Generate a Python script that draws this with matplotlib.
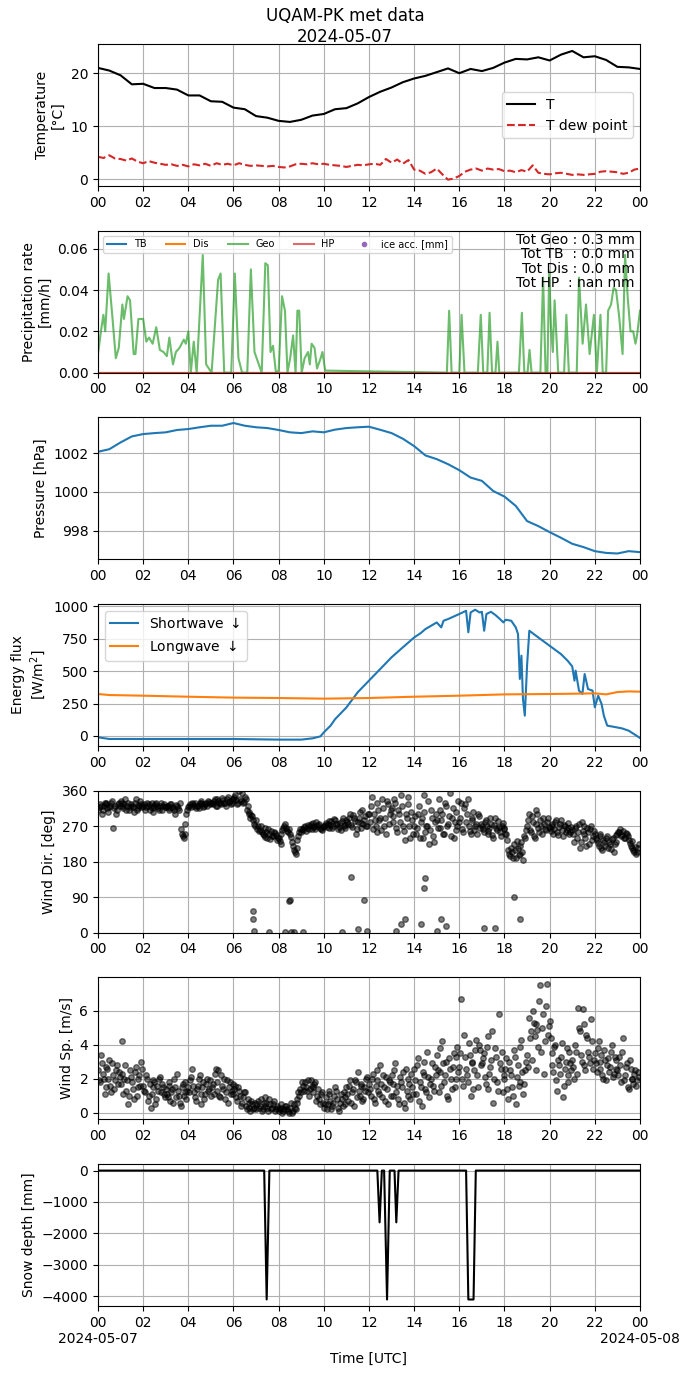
import numpy as np
import pandas as pd
import matplotlib
matplotlib.use('Agg')
import matplotlib.pyplot as plt
import matplotlib.dates as mdates
from matplotlib.ticker import FuncFormatter

day = pd.Timestamp('2024-05-07')

# --- temperature / dew point ---
temp_h = np.arange(49) * 0.5
temp = [21.0, 20.5, 19.6, 17.9, 18.0, 17.2, 17.2, 16.9, 15.8, 15.8, 14.7, 14.6,
        13.5, 13.2, 11.9, 11.6, 11.0, 10.8, 11.2, 12.0, 12.3, 13.2, 13.4, 14.3,
        15.5, 16.5, 17.3, 18.3, 19.0, 19.5, 20.2, 20.9, 20.0, 20.8, 20.4, 21.0,
        22.0, 22.7, 22.6, 23.0, 22.4, 23.5, 24.2, 23.0, 23.2, 22.5, 21.2, 21.1, 20.8]
dew_h = np.arange(97) * 0.25
dew = [4.2, 4.0, 4.5, 3.9, 3.8, 3.5, 3.9, 3.3, 3.0, 3.4, 3.1, 2.9,
       2.7, 2.8, 2.5, 2.7, 2.4, 2.8, 2.6, 2.9, 2.5, 3.0, 2.7, 2.9,
       2.6, 3.0, 2.7, 2.5, 2.6, 2.5, 2.4, 2.5, 2.3, 2.2, 2.4, 2.8,
       2.9, 2.8, 3.0, 2.8, 2.9, 2.7, 2.6, 2.5, 2.3, 2.5, 2.7, 2.6,
       2.8, 2.9, 2.7, 3.8, 3.1, 3.7, 2.9, 3.6, 1.8, 1.6, 1.0, 1.3,
       2.0, 0.9, -0.1, 0.1, 0.6, 1.4, 1.8, 2.0, 1.6, 2.0, 1.8, 1.9,
       1.5, 1.6, 1.3, 1.7, 1.4, 2.6, 1.2, 1.0, 0.9, 1.1, 1.2, 1.0,
       0.8, 0.9, 0.8, 0.9, 1.0, 1.4, 1.5, 1.4, 1.3, 1.0, 1.2, 1.8, 2.0]

# --- precipitation (Geo gauge) ---
geo_h = [0.0, 0.13, 0.24, 0.32, 0.47, 0.63, 0.79, 0.92, 1.08, 1.15, 1.31, 1.42,
         1.58, 1.66, 1.79, 2.0, 2.14, 2.26, 2.42, 2.58, 2.74, 2.9, 3.05, 3.16,
         3.32, 3.45, 3.61, 3.8, 3.89, 4.0, 4.11, 4.24, 4.37, 4.64, 4.79, 5.03,
         5.32, 5.43, 5.59, 5.9, 6.06, 6.22, 6.38, 6.61, 6.77, 6.93, 7.12, 7.25,
         7.41, 7.52, 7.64, 7.75, 7.88, 8.0, 8.15, 8.28, 8.39, 8.51, 8.64, 8.75,
         8.83, 8.91, 9.02, 9.15, 9.3, 9.38, 9.46, 9.59, 9.7, 9.86, 9.94, 10.06,
         15.45, 15.55, 15.66, 16.0, 16.1, 16.23, 16.82, 16.95, 17.06, 17.24, 17.34,
         17.45, 17.6, 17.69, 17.77, 18.64, 18.77, 18.88, 19.02, 19.11, 19.2, 19.59,
         19.71, 19.82, 19.9, 19.98, 20.06, 20.14, 20.22, 20.38, 20.64, 20.74, 20.85,
         21.2, 21.3, 21.46, 21.61, 21.77, 21.96, 22.09, 22.25, 22.35, 22.5, 22.59,
         22.72, 22.83, 22.94, 23.07, 23.23, 23.34, 23.46, 23.58, 23.7, 23.8, 23.87, 24.0]
geo = [0.009, 0.020, 0.028, 0.020, 0.048, 0.028, 0.007, 0.012, 0.033, 0.026, 0.037, 0.035,
       0.009, 0.009, 0.026, 0.026, 0.015, 0.017, 0.014, 0.022, 0.011, 0.010, 0.008, 0.017,
       0.004, 0.010, 0.012, 0.016, 0.014, 0.020, 0.0, 0.015, 0.0, 0.057, 0.004, 0.0,
       0.045, 0.048, 0.0, 0.0, 0.048, 0.007, 0.0, 0.0, 0.050, 0.010, 0.004, 0.0,
       0.053, 0.052, 0.010, 0.013, 0.0, 0.001, 0.037, 0.030, 0.0, 0.007, 0.018, 0.0,
       0.030, 0.030, 0.0, 0.007, 0.010, 0.004, 0.014, 0.012, 0.002, 0.007, 0.010, 0.001,
       0.0, 0.030, 0.0, 0.0, 0.028, 0.0, 0.0, 0.028, 0.0, 0.0, 0.029,
       0.0, 0.0, 0.015, 0.0, 0.0, 0.029, 0.0, 0.0, 0.011, 0.0, 0.0,
       0.046, 0.0, 0.0, 0.049, 0.022, 0.010, 0.035, 0.0, 0.0, 0.028, 0.0,
       0.0, 0.046, 0.014, 0.033, 0.009, 0.028, 0.0, 0.028, 0.0, 0.0, 0.030,
       0.033, 0.041, 0.040, 0.028, 0.009, 0.057, 0.036, 0.020, 0.020, 0.014, 0.018, 0.030]
zero_h = [0.0, 24.0]
zero_v = [0.0, 0.0]
tot_text = "Tot Geo : 0.3 mm\nTot TB  : 0.0 mm\nTot Dis : 0.0 mm\nTot HP  : nan mm"

# --- pressure ---
pres_h = np.arange(49) * 0.5
pres = [1002.07, 1002.2, 1002.55, 1002.86, 1002.98, 1003.03, 1003.07, 1003.19, 1003.24,
        1003.33, 1003.41, 1003.41, 1003.55, 1003.41, 1003.33, 1003.29, 1003.19, 1003.07,
        1003.03, 1003.12, 1003.07, 1003.21, 1003.29, 1003.33, 1003.36, 1003.2, 1003.03,
        1002.74, 1002.36, 1001.88, 1001.69, 1001.43, 1001.12, 1000.74, 1000.57, 1000.05,
        999.76, 999.28, 998.5, 998.24, 997.93, 997.64, 997.33, 997.16, 996.95, 996.86,
        996.83, 996.95, 996.9]

# --- radiation ---
sw_h = [0.0, 0.5, 2.0, 6.0, 8.0, 9.0, 9.5, 9.85, 10.0, 10.3, 10.5, 11.0, 11.5, 12.0,
        12.5, 13.0, 13.5, 14.0, 14.3, 14.5, 15.0, 15.2, 15.3, 15.5, 16.0, 16.3, 16.4,
        16.5, 16.7, 16.9, 17.0, 17.1, 17.2, 17.4, 17.6, 17.8, 17.95, 18.05, 18.3, 18.5,
        18.6, 18.68, 18.75, 18.82, 18.9, 19.0, 19.1, 19.5, 20.0, 20.5, 20.8, 21.0, 21.1,
        21.15, 21.3, 21.45, 21.55, 21.7, 21.9, 22.0, 22.15, 22.3, 22.4, 22.55, 22.8,
        23.2, 23.5, 24.0]
sw = [-10, -23, -23, -23, -28, -28, -18, -3, 28, 80, 130, 220, 337, 427,
      517, 607, 684, 760, 795, 825, 876, 838, 889, 902, 941, 966, 800,
      953, 974, 953, 958, 812, 941, 958, 933, 902, 876, 897, 889, 838,
      786, 440, 620, 285, 157, 542, 812, 760, 696, 632, 580, 537, 427,
      504, 350, 324, 478, 362, 350, 221, 311, 247, 157, 80, 72,
      59, 41, -15]
lw_h = [0, 0.5, 2, 4, 6, 8, 10, 12, 14, 16, 17, 18, 20, 21, 22, 22.5, 23, 23.5, 24]
lw = [324, 316, 311, 303, 296, 293, 288, 293, 303, 311, 316, 321, 324, 326, 329, 321, 339, 344, 342]

# --- wind, 5-min samples (a) and samples offset by 2.5 min (b) ---
wind_h = np.arange(288) / 12.0
wind_h_b = wind_h + 2.5 / 60
wind_dir = [
    310, 325, 300, 320, 330, 315, 318, 328, 265, 322, 312, 330,
    335, 320, 325, 310, 330, 318, 322, 305, 338, 315, 320, 327,
    320, 312, 330, 325, 318, 305, 322, 328, 315, 320, 310, 325,
    318, 322, 310, 325, 315, 300, 320, 312, 262, 245, 250, 300,
    318, 325, 330, 320, 315, 322, 328, 335, 318, 325, 320, 332,
    330, 325, 338, 320, 335, 328, 342, 330, 322, 345, 335, 330,
    340, 350, 325, 358, 335, 330, 345, 310, 300, 290, 295, 275,
    285, 270, 260, 255, 248, 265, 240, 250, 258, 245, 252, 235,
    240, 225, 260, 270, 265, 255, 250, 230, 210, 200, 235, 255,
    255, 260, 270, 265, 262, 275, 270, 268, 280, 272, 266, 260,
    270, 278, 275, 265, 282, 270, 285, 276, 268, 260, 290, 272,
    285, 275, 300, 268, 290, 250, 280, 305, 265, 275, 295, 270,
    300, 320, 262, 285, 255, 310, 290, 340, 270, 250, 325, 300,
    315, 280, 330, 255, 300, 350, 270, 235, 290, 325, 240, 285,
    270, 250, 300, 240, 290, 350, 255, 270, 225, 310, 245, 280,
    285, 340, 265, 300, 250, 320, 275, 355, 290, 240, 305, 270,
    280, 330, 255, 325, 300, 270, 250, 290, 260, 275, 300, 265,
    270, 255, 285, 250, 265, 275, 240, 290, 260, 268, 245, 278,
    265, 250, 210, 195, 205, 225, 190, 215, 200, 230, 185, 240,
    270, 300, 255, 280, 240, 310, 265, 285, 250, 275, 260, 290,
    265, 275, 250, 280, 255, 268, 285, 245, 270, 260, 278, 255,
    260, 230, 270, 255, 215, 280, 250, 240, 265, 225, 270, 245,
    250, 235, 220, 245, 210, 230, 240, 215, 225, 238, 205, 230,
    250, 255, 245, 258, 240, 250, 235, 220, 215, 205, 200, 215]
wind_dir_b = [
    318, 322, 312, 328, 325, 305, 320, 333, 316, 300, 326, 320,
    328, 315, 340, 322, 310, 325, 318, 330, 312, 324, 335, 318,
    325, 318, 322, 310, 330, 316, 326, 320, 312, 328, 322, 318,
    322, 315, 326, 318, 310, 324, 316, 330, 250, 240, 275, 312,
    322, 318, 326, 330, 322, 316, 330, 325, 320, 328, 335, 326,
    328, 334, 322, 340, 330, 325, 336, 328, 340, 332, 326, 338,
    345, 336, 330, 340, 355, 332, 338, 320, 305, 298, 285, 270,
    262, 258, 270, 250, 242, 255, 262, 238, 245, 255, 248, 240,
    232, 250, 265, 275, 258, 262, 242, 220, 205, 215, 245, 262,
    262, 268, 258, 272, 270, 262, 278, 264, 270, 276, 262, 268,
    274, 268, 282, 272, 265, 288, 275, 262, 278, 284, 270, 265,
    280, 290, 272, 298, 282, 262, 292, 278, 310, 285, 270, 300,
    280, 345, 300, 270, 330, 285, 260, 315, 290, 335, 275, 310,
    295, 340, 265, 310, 280, 320, 258, 300, 345, 270, 305, 250,
    295, 265, 320, 280, 240, 305, 270, 335, 260, 290, 230, 300,
    265, 310, 285, 250, 330, 270, 295, 245, 315, 280, 260, 335,
    290, 262, 315, 280, 340, 258, 285, 305, 270, 250, 295, 275,
    262, 280, 270, 258, 290, 248, 272, 265, 282, 255, 270, 262,
    250, 235, 200, 215, 190, 210, 232, 198, 220, 205, 245, 260,
    285, 260, 295, 245, 275, 300, 255, 270, 290, 262, 280, 268,
    258, 270, 262, 285, 248, 275, 260, 272, 255, 265, 250, 268,
    250, 265, 240, 275, 230, 258, 270, 220, 255, 262, 235, 258,
    240, 228, 250, 215, 235, 220, 245, 230, 212, 240, 225, 248,
    255, 262, 248, 240, 252, 245, 228, 232, 210, 218, 205, 225]
# stray low direction readings
dir_out_h = [6.85, 6.87, 6.9, 7.56, 8.3, 8.45, 8.5, 8.55, 8.7, 9.1, 10.8, 11.2,
             11.5, 11.8, 11.9, 13.2, 13.4, 13.6, 14.3, 14.45, 14.5, 15.0, 15.2,
             15.4, 17.1, 17.6, 18.4, 18.7]
dir_out = [55, 35, 5, 1, 1, 80, 82, 1, 2, 1, 1, 142,
           10, 83, 5, 5, 22, 35, 23, 112, 139, 5, 35,
           18, 12, 12, 90, 35]
wind_sp = [
    2.5, 1.8, 2.9, 2.0, 1.5, 2.6, 3.1, 1.2, 2.2, 1.9, 2.8, 2.4,
    1.7, 4.2, 2.0, 1.3, 0.5, 2.5, 1.8, 0.8, 2.7, 1.5, 2.2, 3.0,
    1.6, 1.2, 2.0, 1.0, 0.3, 1.5, 1.8, 0.8, 1.3, 2.1, 1.7, 1.1,
    1.4, 0.9, 1.8, 1.2, 0.6, 1.5, 2.3, 1.0, 0.4, 1.7, 1.2, 0.8,
    1.5, 1.9, 2.6, 1.2, 0.7, 1.6, 2.2, 0.5, 1.8, 1.1, 2.0, 1.4,
    1.0, 1.7, 2.3, 1.3, 2.5, 0.9, 1.6, 2.0, 1.2, 0.6, 1.8, 1.3,
    1.1, 1.6, 0.7, 1.3, 0.4, 0.9, 1.2, 0.2, 0.6, 0.1, 0.5, 0.3,
    0.2, 0.7, 0.4, 0.1, 0.6, 0.9, 0.3, 0.8, 0.2, 0.5, 0.1, 0.4,
    0.1, 0.3, 0.0, 0.2, 0.4, 0.1, 0.3, 0.0, 0.5, 0.2, 0.8, 1.0,
    1.2, 1.6, 1.8, 1.3, 1.0, 1.9, 1.5, 1.7, 0.7, 1.4, 0.5, 1.2,
    0.3, 0.9, 0.5, 1.3, 0.2, 0.6, 1.5, 0.8, 0.1, 1.1, 0.4, 0.9,
    1.5, 0.7, 1.9, 1.2, 0.4, 1.8, 2.4, 1.0, 1.6, 0.8, 1.3, 2.1,
    1.7, 1.0, 2.3, 0.6, 1.9, 1.3, 2.8, 0.9, 1.5, 2.1, 0.5, 1.8,
    2.2, 1.0, 2.9, 1.6, 0.5, 1.8, 2.4, 0.3, 1.3, 2.0, 0.8, 1.5,
    2.6, 1.1, 3.2, 1.8, 0.4, 2.2, 1.4, 3.6, 0.9, 2.0, 1.6, 2.7,
    3.4, 1.2, 2.4, 4.2, 1.8, 3.0, 0.8, 2.6, 1.4, 3.5, 2.0, 3.9,
    2.7, 6.7, 1.6, 3.3, 2.2, 4.1, 1.0, 3.0, 2.5, 4.3, 1.5, 3.7,
    2.9, 3.5, 1.7, 4.5, 2.3, 3.1, 0.6, 3.8, 1.8, 5.8, 2.6, 1.2,
    2.0, 3.2, 0.8, 2.5, 1.5, 3.7, 0.5, 2.8, 1.8, 4.3, 1.1, 2.5,
    3.4, 5.6, 4.8, 6.0, 4.5, 5.2, 3.9, 7.5, 5.0, 2.3, 6.3, 4.6,
    5.4, 3.5, 2.4, 4.0, 1.3, 2.8, 3.3, 0.9, 2.6, 3.8, 1.8, 2.9,
    3.1, 2.0, 3.6, 6.2, 4.8, 3.0, 5.2, 2.5, 4.4, 3.3, 5.5, 2.6,
    3.5, 2.4, 4.2, 3.0, 2.2, 3.7, 1.9, 3.2, 2.7, 4.0, 2.3, 3.1,
    2.5, 3.3, 1.8, 4.4, 2.2, 2.9, 1.4, 2.6, 2.0, 2.3, 1.6, 2.4]
wind_sp_b = [
    1.9, 3.4, 2.3, 1.1, 2.7, 2.0, 1.6, 2.9, 1.4, 2.5, 1.7, 2.1,
    2.3, 1.1, 2.8, 1.9, 1.0, 2.1, 1.4, 2.4, 1.0, 2.0, 1.6, 2.6,
    1.3, 2.2, 0.7, 1.7, 1.1, 1.9, 0.5, 1.6, 2.0, 1.2, 1.5, 0.9,
    1.1, 1.6, 0.7, 1.4, 2.0, 0.9, 1.3, 0.6, 1.5, 1.0, 1.8, 1.3,
    1.2, 2.1, 1.6, 0.9, 1.4, 2.0, 1.1, 1.5, 0.8, 1.7, 1.3, 1.9,
    1.5, 1.1, 2.6, 1.8, 1.0, 2.2, 1.4, 0.8, 1.9, 1.5, 1.1, 1.7,
    1.4, 0.9, 1.5, 1.0, 0.6, 1.2, 0.4, 0.8, 0.3, 0.7, 0.2, 0.6,
    0.5, 0.3, 0.8, 0.2, 0.4, 0.6, 0.1, 0.5, 0.3, 0.7, 0.2, 0.3,
    0.2, 0.5, 0.1, 0.4, 0.2, 0.0, 0.6, 0.1, 0.3, 0.6, 1.2, 1.4,
    1.8, 1.3, 1.5, 1.9, 1.4, 1.6, 1.2, 1.8, 1.0, 0.8, 1.1, 0.6,
    0.5, 0.2, 1.1, 0.7, 0.4, 1.0, 1.3, 0.3, 0.6, 0.8, 1.2, 0.5,
    1.1, 1.6, 0.6, 1.4, 1.9, 0.9, 1.3, 1.7, 0.7, 1.5, 2.0, 1.2,
    1.4, 2.0, 0.8, 1.6, 2.5, 1.1, 1.7, 2.2, 0.7, 1.4, 1.9, 1.0,
    1.7, 2.5, 1.2, 0.8, 2.1, 1.5, 0.6, 2.6, 1.0, 1.7, 2.3, 1.1,
    1.9, 2.8, 0.7, 1.5, 2.4, 3.0, 1.2, 2.1, 1.7, 2.9, 1.3, 2.2,
    2.5, 3.8, 1.6, 2.9, 2.2, 1.0, 3.2, 2.0, 2.7, 1.5, 3.3, 2.4,
    3.5, 2.0, 4.6, 2.6, 1.8, 3.4, 2.9, 1.4, 3.7, 2.2, 4.0, 2.8,
    3.2, 2.1, 3.9, 1.4, 2.7, 4.8, 2.0, 3.3, 1.3, 2.9, 3.6, 2.2,
    2.6, 1.4, 3.0, 2.2, 1.0, 3.3, 2.1, 1.6, 3.9, 2.4, 1.7, 3.0,
    2.7, 4.4, 3.1, 5.3, 2.5, 4.9, 6.6, 3.6, 5.8, 4.2, 7.6, 5.1,
    4.4, 2.8, 3.9, 1.9, 3.1, 2.3, 4.1, 1.6, 3.0, 2.2, 3.6, 2.5,
    2.7, 4.0, 2.3, 5.0, 3.4, 6.1, 2.8, 4.6, 3.6, 2.9, 4.2, 3.1,
    2.9, 3.8, 2.6, 3.4, 2.0, 3.1, 2.8, 2.4, 3.6, 2.1, 3.3, 2.6,
    2.2, 2.8, 3.6, 1.9, 2.7, 1.5, 3.1, 2.0, 1.7, 2.5, 1.9, 2.1]

# --- snow depth ---
snow_h = [0, 7.36, 7.47, 7.59, 12.37, 12.47, 12.57, 12.67, 12.8, 12.92,
          13.13, 13.21, 13.31, 16.3, 16.4, 16.63, 16.73, 24]
snow = [0, 0, -4110, 0, 0, -1650, 0, 0, -4110, 0,
        0, -1650, 0, 0, -4110, -4110, 0, 0]


def to_time(hours):
    return (day + pd.to_timedelta(np.asarray(hours, dtype=float), unit='h')).to_numpy()


def hour_label(x, pos):
    return mdates.num2date(x).strftime('%H')


def hour_date_label(x, pos):
    d = mdates.num2date(x)
    if d.hour == 0:
        return d.strftime('%H\n%Y-%m-%d')
    return d.strftime('%H')


fig, axes = plt.subplots(7, 1, figsize=(6.9, 13.77))
fig.subplots_adjust(left=0.142, right=0.9275, top=0.968, bottom=0.0516, hspace=0.315)
fig.suptitle('UQAM-PK met data\n2024-05-07', y=0.995)

# Temperature
ax = axes[0]
ax.plot(to_time(temp_h), temp, color='black', label='T')
ax.plot(to_time(dew_h), dew, color='tab:red', linestyle='--', label='T dew point')
ax.set_ylim(-1.3, 25.5)
ax.set_ylabel('Temperature\n[°C]')
ax.legend(loc='center right')

# Precipitation
ax = axes[1]
ax.plot(to_time(zero_h), zero_v, color='tab:blue', label='TB')
ax.plot(to_time(zero_h), zero_v, color='tab:orange', label='Dis')
ax.plot(to_time(geo_h), geo, color='tab:green', alpha=0.7, label='Geo')
ax.plot(to_time(zero_h), zero_v, color='tab:red', alpha=0.7, label='HP')
ax.plot([], [], 'o', color='tab:purple', markersize=3, label='ice acc. [mm]')
ax.set_ylim(0, 0.0687)
ax.set_ylabel('Precipitation rate\n[mm/h]')
ax.legend(loc='upper left', ncol=5, fontsize=7)
ax.text(0.99, 0.985, tot_text, transform=ax.transAxes, ha='right', va='top',
        multialignment='right', fontsize=10, linespacing=1.05)

# Pressure
ax = axes[2]
ax.plot(to_time(pres_h), pres, color='tab:blue')
ax.set_ylim(996.53, 1003.84)
ax.set_yticks([998, 1000, 1002])
ax.set_ylabel('Pressure [hPa]')

# Radiation
ax = axes[3]
ax.plot(to_time(sw_h), sw, color='tab:blue', label='Shortwave $\\downarrow$')
ax.plot(to_time(lw_h), lw, color='tab:orange', label='Longwave $\\downarrow$')
ax.set_ylim(-77, 1018)
ax.set_yticks([0, 250, 500, 750, 1000])
ax.set_ylabel('Energy flux\n[W/m$^2$]')
ax.legend(loc='upper left')

# Wind direction
ax = axes[4]
for th, vals in [(wind_h, wind_dir), (wind_h_b, wind_dir_b), (dir_out_h, dir_out)]:
    ax.plot(to_time(th), vals, 'o', color='black', alpha=0.5, markersize=4)
ax.set_ylim(0, 360)
ax.set_yticks([0, 90, 180, 270, 360])
ax.set_ylabel('Wind Dir. [deg]')

# Wind speed
ax = axes[5]
for th, vals in [(wind_h, wind_sp), (wind_h_b, wind_sp_b)]:
    ax.plot(to_time(th), vals, 'o', color='black', alpha=0.5, markersize=4)
ax.set_ylim(-0.39, 7.98)
ax.set_yticks([0, 2, 4, 6])
ax.set_ylabel('Wind Sp. [m/s]')

# Snow depth
ax = axes[6]
ax.plot(to_time(snow_h), snow, color='black')
ax.set_ylim(-4316, 210)
ax.set_ylabel('Snow depth [mm]')
ax.set_xlabel('Time [UTC]')

start = mdates.date2num(day)
end = mdates.date2num(day + pd.Timedelta(days=1))
for i, ax in enumerate(axes):
    ax.set_xlim(start, end)
    ax.xaxis.set_major_locator(mdates.HourLocator(byhour=range(0, 24, 2)))
    if i == len(axes) - 1:
        ax.xaxis.set_major_formatter(FuncFormatter(hour_date_label))
    else:
        ax.xaxis.set_major_formatter(FuncFormatter(hour_label))
    ax.grid(True)

plt.savefig('out.png', dpi=100)
